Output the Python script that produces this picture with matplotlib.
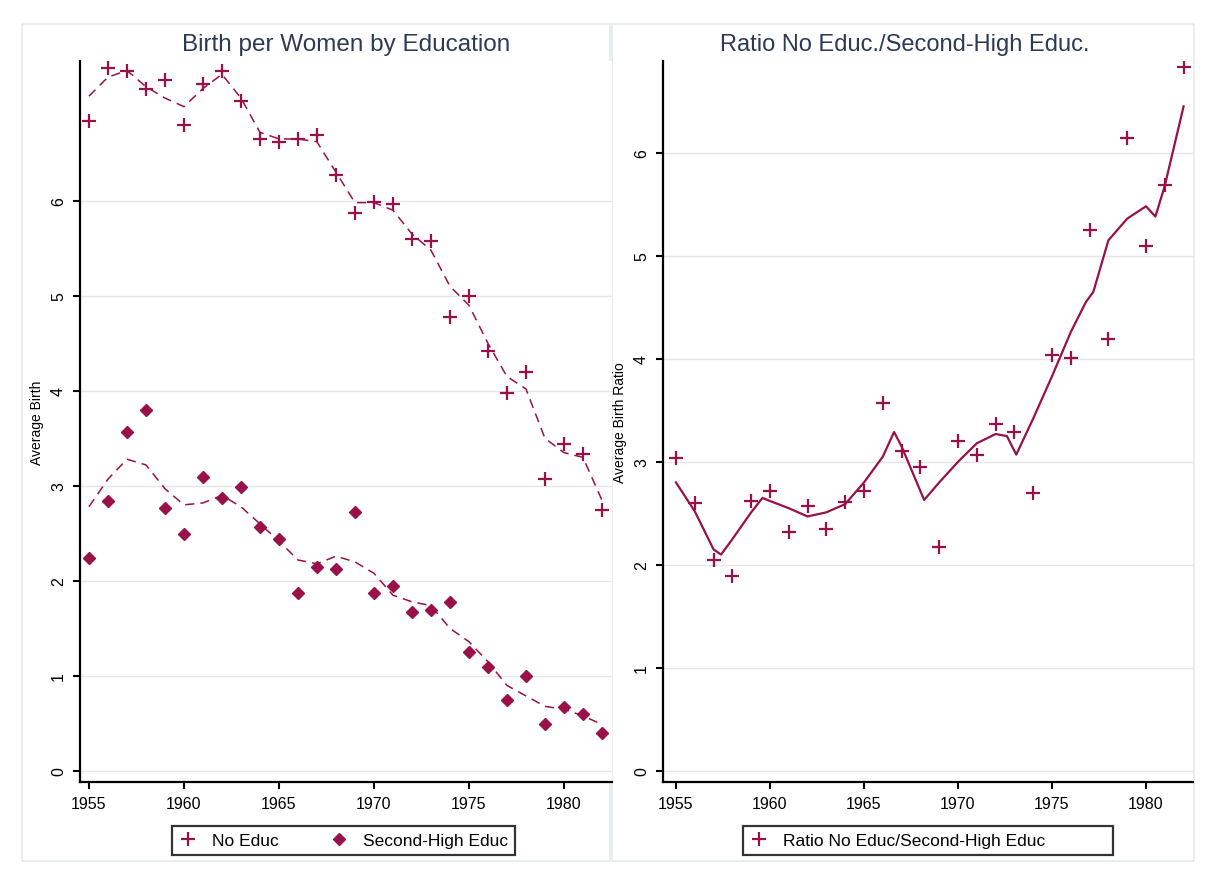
import numpy as np
import matplotlib
matplotlib.use('Agg')
import matplotlib.pyplot as plt
from matplotlib.patches import Rectangle
from matplotlib.lines import Line2D

plt.rcParams['font.family'] = ['Liberation Sans', 'DejaVu Sans']

years = list(range(1955, 1983))

# births per woman, no education (plus markers)
no_educ = [6.84, 7.40, 7.36, 7.18, 7.27, 6.80, 7.23, 7.36, 7.05, 6.65,
           6.62, 6.65, 6.69, 6.27, 5.87, 5.99, 5.97, 5.60, 5.58, 4.78,
           5.00, 4.42, 3.98, 4.20, 3.07, 3.44, 3.33, 2.75]
no_educ_fit = [7.10, 7.30, 7.37, 7.20, 7.08, 6.99, 7.18, 7.33, 7.08, 6.72,
               6.65, 6.65, 6.62, 6.30, 5.98, 5.98, 5.90, 5.65, 5.48, 5.10,
               4.90, 4.50, 4.15, 4.02, 3.50, 3.35, 3.30, 2.85]

# births per woman, second-high education (diamonds)
high_educ = [2.24, 2.84, 3.57, 3.80, 2.77, 2.49, 3.09, 2.87, 2.99, 2.57,
             2.44, 1.87, 2.15, 2.12, 2.72, 1.87, 1.95, 1.67, 1.69, 1.78,
             1.25, 1.09, 0.75, 1.00, 0.49, 0.67, 0.60, 0.40]
high_educ_fit = [2.78, 3.07, 3.28, 3.22, 2.97, 2.80, 2.82, 2.90, 2.78, 2.60,
                 2.42, 2.22, 2.18, 2.26, 2.20, 2.08, 1.85, 1.78, 1.74, 1.50,
                 1.36, 1.15, 0.90, 0.79, 0.68, 0.65, 0.58, 0.49]

# ratio no educ / second-high educ
ratio = [3.04, 2.60, 2.05, 1.89, 2.62, 2.72, 2.32, 2.57, 2.35, 2.61,
         2.72, 3.57, 3.11, 2.95, 2.17, 3.20, 3.07, 3.37, 3.29, 2.70,
         4.04, 4.01, 5.25, 4.19, 6.14, 5.09, 5.69, 6.83]
ratio_fit_x = [1955, 1956, 1957, 1957.4, 1958, 1959, 1959.6, 1960, 1961, 1962,
               1963, 1964, 1965, 1966, 1966.6, 1967, 1968.2, 1969, 1970, 1971,
               1972, 1972.6, 1973.1, 1974, 1975, 1976, 1976.8, 1977.2, 1978,
               1979, 1980, 1980.5, 1981, 1982]
ratio_fit = [2.80, 2.52, 2.15, 2.10, 2.25, 2.51, 2.65, 2.62, 2.55, 2.47,
             2.51, 2.59, 2.80, 3.05, 3.29, 3.15, 2.63, 2.80, 3.00, 3.18,
             3.27, 3.25, 3.07, 3.42, 3.83, 4.26, 4.55, 4.65, 5.15,
             5.36, 5.48, 5.38, 5.68, 6.45]

W, H = 1212, 878
col = '#9a1048'
title_col = '#2c3a55'

fig = plt.figure(figsize=(W / 100, H / 100), dpi=100)
fig.patch.set_facecolor('white')


def fx(px):
    return px / W


def fy(py):
    return 1 - py / H


# panel frames
for x0, x1 in [(22, 610), (612, 1194)]:
    fig.add_artist(Rectangle((fx(x0), fy(862)), fx(x1 - x0), (862 - 25) / H,
                             transform=fig.transFigure, facecolor='white',
                             edgecolor='#e4ebee', linewidth=1.2, zorder=0))


def style_axis(ax, ylim, xlim):
    ax.set_xlim(*xlim)
    ax.set_ylim(*ylim)
    ax.set_yticks(range(0, 7))
    ax.set_yticklabels([str(i) for i in range(0, 7)], rotation=90, va='center')
    ax.set_xticks([1955, 1960, 1965, 1970, 1975, 1980])
    ax.tick_params(axis='both', direction='out', length=5, width=1.5,
                   labelsize=11.5, colors='black', pad=5)
    for s in ['top', 'right']:
        ax.spines[s].set_visible(False)
    for s in ['left', 'bottom']:
        ax.spines[s].set_linewidth(1.6)
    ax.grid(axis='y', color='#e6e6e6', linewidth=1)
    ax.set_axisbelow(True)
    ax.set_facecolor('white')


# left panel
ax1 = fig.add_axes([fx(80), fy(783), fx(532), 721 / H])
style_axis(ax1, (-0.116, 7.47), (1954.53, 1982.53))
ax1.plot(years, no_educ_fit, color=col, lw=1.1, dashes=(6, 4))
ax1.plot(years, high_educ_fit, color=col, lw=1.1, dashes=(6, 4))
ax1.plot(years, no_educ, ls='none', marker='+', ms=10, mew=1.6, color=col)
ax1.plot(years, high_educ, ls='none', marker='D', ms=6, color=col, mec=col)
ax1.set_ylabel('Average Birth', fontsize=10, labelpad=5)
ax1.set_title('Birth per Women by Education', fontsize=17.5, color=title_col, pad=8)

h1 = [Line2D([], [], ls='none', marker='+', ms=10, mew=1.6, color=col),
      Line2D([], [], ls='none', marker='D', ms=6, color=col)]
leg1 = fig.legend(h1, ['No Educ', 'Second-High Educ'], ncol=2, mode='expand',
                  loc='lower left',
                  bbox_to_anchor=(fx(172), fy(856), fx(343), 32 / H),
                  fontsize=12.5, fancybox=False, edgecolor='black',
                  handlelength=1.0, handletextpad=0.9, borderpad=0.4,
                  borderaxespad=0)
leg1.get_frame().set_linewidth(1.6)

# right panel
ax2 = fig.add_axes([fx(663), fy(783), fx(530), 721 / H])
style_axis(ax2, (-0.107, 6.89), (1954.31, 1982.5))
ax2.plot(ratio_fit_x, ratio_fit, color=col, lw=1.6)
ax2.plot(years, ratio, ls='none', marker='+', ms=10, mew=1.6, color=col)
ax2.set_ylabel('Average Birth Ratio', fontsize=10, labelpad=5)
ax2.set_title('Ratio No Educ./Second-High Educ.', fontsize=17, color=title_col,
              pad=8, x=(905 - 663) / 530)

h2 = [Line2D([], [], ls='none', marker='+', ms=10, mew=1.6, color=col)]
leg2 = fig.legend(h2, ['Ratio No Educ/Second-High Educ'], ncol=1, mode='expand',
                  loc='lower left',
                  bbox_to_anchor=(fx(743), fy(856), fx(370), 32 / H),
                  fontsize=12.5, fancybox=False, edgecolor='black',
                  handlelength=1.0, handletextpad=0.9, borderpad=0.4,
                  borderaxespad=0)
leg2.get_frame().set_linewidth(1.6)

fig.savefig('out.png', dpi=100)
